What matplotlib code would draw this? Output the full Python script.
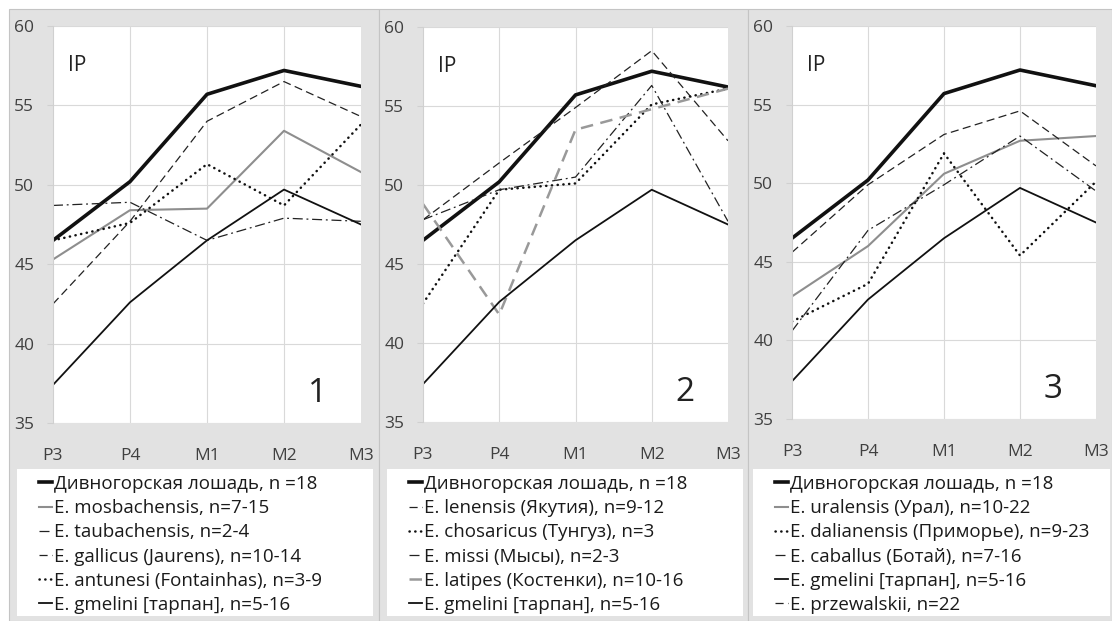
import matplotlib
matplotlib.use("Agg")
import matplotlib.pyplot as plt
from matplotlib.patches import Rectangle

plt.rcParams['font.family'] = ['Open Sans', 'DejaVu Sans']

W, H = 1112, 621

# --- data (IP index by tooth position) ---
teeth = ["P3", "P4", "M1", "M2", "M3"]
divnogorsk = [46.5, 50.2, 55.7, 57.2, 56.2]
gmelini = [37.4, 42.6, 46.5, 49.7, 47.5]

mosbachensis = [45.3, 48.4, 48.5, 53.4, 50.8]
taubachensis = [48.7, 48.9, 46.5, 47.9, 47.7]
gallicus = [42.5, 47.7, 54.0, 56.5, 54.3]
antunesi = [46.5, 47.6, 51.3, 48.7, 53.8]

lenensis = [47.8, 51.4, 54.9, 58.5, 52.8]
chosaricus = [42.5, 49.7, 50.1, 55.1, 56.1]
missi = [47.8, 49.7, 50.5, 56.3, 47.7]
latipes = [48.8, 41.8, 53.5, 54.8, 56.1]

uralensis = [42.8, 46.0, 50.6, 52.7, 53.0]
dalianensis = [41.2, 43.6, 51.9, 45.4, 50.1]
caballus = [40.6, 47.0, 49.9, 53.0, 49.5]
przewalskii = [45.6, 49.9, 53.1, 54.6, 51.1]

lab_div = "Дивногорская лошадь, n =18"
lab_gm = "E. gmelini [тарпан], n=5-16"

# line styles
THICK = dict(color="#111111", lw=2.6)
THIN = dict(color="#111111", lw=1.3)
GRAY = dict(color="#8e8e8e", lw=1.5)
DASHDOT = dict(color="#222222", lw=0.9, dashes=(8, 3, 1.5, 3))
DASHED = dict(color="#222222", lw=0.9, dashes=(6.5, 3.5))
DOTTED = dict(color="#111111", lw=1.8, dashes=(0.1, 2.2), dash_capstyle="round")
GRAYDASH = dict(color="#999999", lw=1.8, dashes=(5, 3))

panels = [
    dict(num="1", frame=(9, 379), plot=(53, 26, 361, 423), leg=(17, 373),
         series=[(divnogorsk, lab_div, THICK),
                 (mosbachensis, "E. mosbachensis, n=7-15", GRAY),
                 (taubachensis, "E. taubachensis, n=2-4", DASHDOT),
                 (gallicus, "E. gallicus (Jaurens), n=10-14", DASHED),
                 (antunesi, "E. antunesi (Fontainhas), n=3-9", DOTTED),
                 (gmelini, lab_gm, THIN)]),
    dict(num="2", frame=(379, 748), plot=(423, 27, 728, 422), leg=(387, 743),
         series=[(divnogorsk, lab_div, THICK),
                 (lenensis, "E. lenensis (Якутия), n=9-12", DASHED),
                 (chosaricus, "E. chosaricus (Тунгуз), n=3", DOTTED),
                 (missi, "E. missi (Мысы), n=2-3", DASHDOT),
                 (latipes, "E. latipes (Костенки), n=10-16", GRAYDASH),
                 (gmelini, lab_gm, THIN)]),
    dict(num="3", frame=(748, 1112), plot=(792, 26, 1096, 419), leg=(753, 1110),
         series=[(divnogorsk, lab_div, THICK),
                 (uralensis, "E. uralensis (Урал), n=10-22", GRAY),
                 (dalianensis, "E. dalianensis (Приморье), n=9-23", DOTTED),
                 (caballus, "E. caballus (Ботай), n=7-16", DASHDOT),
                 (gmelini, lab_gm, THIN),
                 (przewalskii, "E. przewalskii, n=22", DASHED)]),
]

fig = plt.figure(figsize=(W / 100, H / 100), dpi=100)
fig.patch.set_facecolor("white")


def fx(px):
    return px / W


def fy(py):
    return 1 - py / H


for p in panels:
    x0, x1 = p["frame"]
    fig.add_artist(Rectangle((fx(x0), 0), fx(x1 - x0), fy(9), transform=fig.transFigure,
                             facecolor="#e2e2e2", edgecolor="#c4c4c4", lw=0.8, zorder=-3))
    l0, l1 = p["leg"]
    fig.add_artist(Rectangle((fx(l0), fy(616)), fx(l1 - l0), (616 - 469) / H,
                             transform=fig.transFigure, facecolor="white",
                             edgecolor="none", zorder=-2))

    a0, b0, a1, b1 = p["plot"]
    ax = fig.add_axes([fx(a0), fy(b1), fx(a1 - a0), (b1 - b0) / H])
    ax.set_facecolor("white")
    xs = list(range(len(teeth)))
    for vals, lab, st in p["series"]:
        ax.plot(xs, vals, label=lab, solid_joinstyle="round", **st)
    ax.set_xlim(0, len(teeth) - 1)
    ax.set_ylim(35, 60)
    ax.set_yticks(range(35, 61, 5))
    ax.set_xticks(xs)
    ax.set_xticklabels(teeth)
    ax.set_axisbelow(True)
    ax.yaxis.grid(True, color="#d9d9d9", lw=0.8)
    ax.vlines(xs[1:-1], 35, 60, color="#d9d9d9", lw=0.8, zorder=0.5)
    for s in ["top", "right", "bottom"]:
        ax.spines[s].set_visible(False)
    ax.spines["left"].set_color("#d0d0d0")
    ax.spines["left"].set_linewidth(0.8)
    ax.tick_params(axis="y", length=4.5, color="#d0d0d0", pad=9, labelsize=12.5,
                   labelcolor="#404040")
    ax.tick_params(axis="x", length=0, pad=18, labelsize=12.5, labelcolor="#404040")
    ax.text(0.05, 0.9, "IP", transform=ax.transAxes, fontsize=15, color="#222222",
            va="center", ha="left")
    ax.text(0.86, 0.075, p["num"], transform=ax.transAxes, fontsize=24,
            color="#222222", va="center", ha="center")

    ax.legend(loc="upper left", bbox_to_anchor=(fx(l0 + 22), fy(475)),
              bbox_transform=fig.transFigure, frameon=False, fontsize=13.5,
              handlelength=0.7, handletextpad=0.08, borderpad=0, borderaxespad=0,
              labelspacing=0.33, labelcolor="#1a1a1a")

fig.savefig("out.png", dpi=100, facecolor="white")
